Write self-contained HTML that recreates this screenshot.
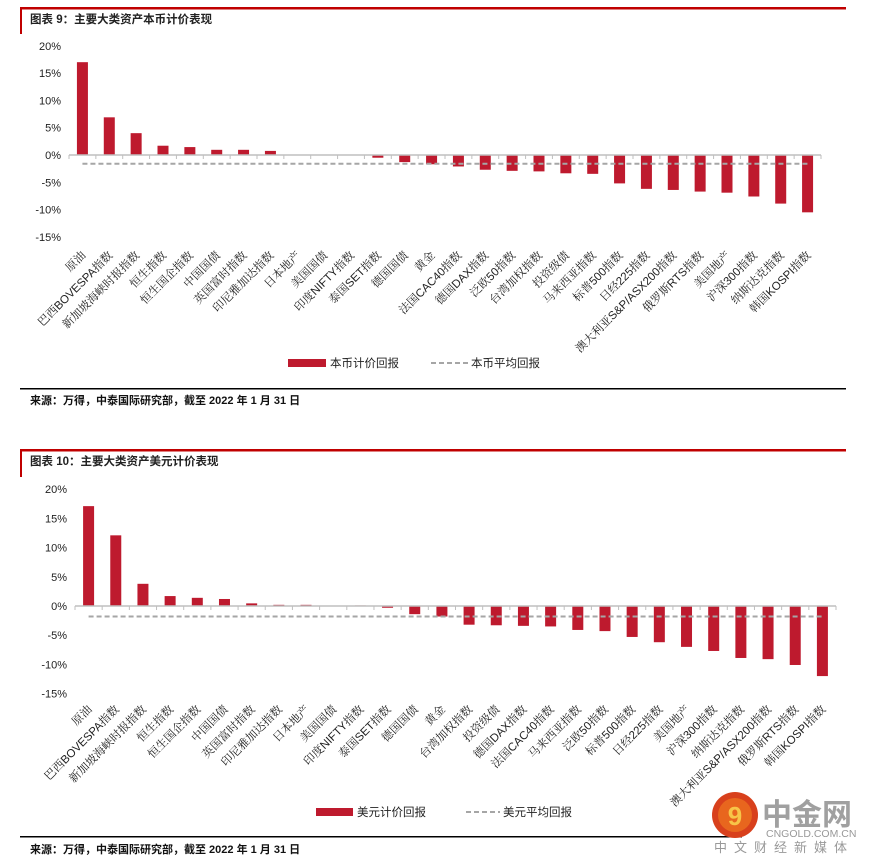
<!DOCTYPE html>
<html><head><meta charset="utf-8"><style>
body{margin:0;background:#fff;}
svg{display:block;font-family:"Liberation Sans","Noto Sans CJK SC",sans-serif;}
</style></head><body>
<svg id="s" width="869" height="863" viewBox="0 0 869 863" xmlns="http://www.w3.org/2000/svg">
<rect x="20" y="7" width="826" height="2.5" fill="#c00000"/>
<rect x="20" y="7" width="2" height="27" fill="#c00000"/>
<text x="30" y="23" font-size="11.5" fill="#222" font-weight="bold">图表 9：主要大类资产本币计价表现</text>
<rect x="20" y="449" width="826" height="2.5" fill="#c00000"/>
<rect x="20" y="449" width="2" height="28" fill="#c00000"/>
<text x="30" y="465" font-size="11.5" fill="#222" font-weight="bold">图表 10：主要大类资产美元计价表现</text>
<g id="c1"></g><g id="c2"></g>
<rect x="288" y="359" width="38" height="8" fill="#be1a2e"/>
<text x="330" y="367" font-size="11.5" fill="#222">本币计价回报</text>
<line x1="431" y1="363" x2="468" y2="363" stroke="#a6a6a6" stroke-width="2" stroke-dasharray="5,3"/>
<text x="471" y="367" font-size="11.5" fill="#222">本币平均回报</text>
<rect x="20" y="388" width="826" height="1.5" fill="#000"/>
<text x="30" y="404" font-size="11" font-weight="bold" fill="#111">来源：万得，中泰国际研究部，截至 2022 年 1 月 31 日</text>
<rect x="316" y="808" width="37" height="8" fill="#be1a2e"/>
<text x="357" y="816" font-size="11.5" fill="#222">美元计价回报</text>
<line x1="466" y1="812" x2="500" y2="812" stroke="#a6a6a6" stroke-width="2" stroke-dasharray="5,3"/>
<text x="503" y="816" font-size="11.5" fill="#222">美元平均回报</text>
<rect x="20" y="836" width="722" height="1.5" fill="#000"/>
<text x="30" y="853" font-size="11" font-weight="bold" fill="#111">来源：万得，中泰国际研究部，截至 2022 年 1 月 31 日</text>
<g>
<circle cx="735" cy="815" r="23" fill="#d8401c"/>
<circle cx="735" cy="815" r="17" fill="#e8661e"/>
<text x="735" y="825" font-size="26" font-weight="bold" fill="#f7c548" text-anchor="middle">9</text>
<text x="762" y="825" font-size="30" font-weight="bold" fill="#a0a0a0" font-family="Noto Sans CJK SC,sans-serif">中金网</text>
<text x="766" y="837" font-size="10.5" fill="#999">CNGOLD.COM.CN</text>
<text x="714" y="852" font-size="13" fill="#999" letter-spacing="7">中文财经新媒体</text>
</g>
</svg>
<script>
const cats1=["原油","巴西BOVESPA指数","新加坡海峡时报指数","恒生指数","恒生国企指数","中国国债","英国富时指数","印尼雅加达指数","日本地产","美国国债","印度NIFTY指数","泰国SET指数","德国国债","黄金","法国CAC40指数","德国DAX指数","泛欧50指数","台湾加权指数","投资级债","马来西亚指数","标普500指数","日经225指数","澳大利亚S&P/ASX200指数","俄罗斯RTS指数","美国地产","沪深300指数","纳斯达克指数","韩国KOSPI指数"];
const vals1=[17.0,6.9,4.0,1.7,1.45,0.95,0.95,0.75,0,0,0,-0.5,-1.3,-1.7,-2.1,-2.7,-2.9,-3.0,-3.35,-3.45,-5.2,-6.2,-6.4,-6.7,-6.9,-7.6,-8.9,-10.5];
const avg1=-1.6;
const cats2=["原油","巴西BOVESPA指数","新加坡海峡时报指数","恒生指数","恒生国企指数","中国国债","英国富时指数","印尼雅加达指数","日本地产","美国国债","印度NIFTY指数","泰国SET指数","德国国债","黄金","台湾加权指数","投资级债","德国DAX指数","法国CAC40指数","马来西亚指数","泛欧50指数","标普500指数","日经225指数","美国地产","沪深300指数","纳斯达克指数","澳大利亚S&P/ASX200指数","俄罗斯RTS指数","韩国KOSPI指数"];
const vals2=[17.1,12.1,3.8,1.7,1.4,1.2,0.45,0.2,0.2,0,0.1,-0.3,-1.4,-1.8,-3.2,-3.3,-3.4,-3.5,-4.1,-4.3,-5.3,-6.2,-7.0,-7.7,-8.9,-9.1,-10.1,-12.0];
const avg2=-1.8;
const ticks=[20,15,10,5,0,-5,-10,-15];
const NS="http://www.w3.org/2000/svg";
function mk(tag,attrs,parent,txt){const e=document.createElementNS(NS,tag);for(const k in attrs)e.setAttribute(k,attrs[k]);if(txt!==undefined)e.textContent=txt;parent.appendChild(e);return e;}
function draw(g,cats,vals,avg,o,prefix){
  const y=v=>o.y0-v*o.ppu;
  const step=(o.x1-o.x0)/cats.length;
  const x=i=>o.x0+step*(i+0.5);
  ticks.forEach(t=>{
    const tl=mk('text',{x:o.x0-8,y:y(t)+4,'font-size':11,'text-anchor':'end',fill:'#222'},g,t+'%');
    
    
  });
  vals.forEach((v,i)=>{
    const r=mk('rect',{x:x(i)-o.bw/2,y:Math.min(y(v),y(0)),width:o.bw,height:Math.abs(y(v)-y(0)),fill:'#be1a2e'},g);
    
    
  });
  const ax=mk('line',{x1:o.x0,y1:y(0),x2:o.x1,y2:y(0),stroke:'#bfbfbf','stroke-width':1.5},g);
  
  
  for(let i=0;i<=cats.length;i++){
    const tk=mk('line',{x1:o.x0+step*i,y1:y(0),x2:o.x0+step*i,y2:y(0)+4,stroke:'#bfbfbf'},g);
    
    
  }
  const al=mk('line',{x1:x(0),y1:y(avg),x2:x(cats.length-1),y2:y(avg),stroke:'#a6a6a6','stroke-width':2,'stroke-dasharray':'5,3'},g);
  
  
  cats.forEach((c,i)=>{
    const lx=x(i)+4, ly=o.ly;
    const t=mk('text',{x:lx,y:ly,'font-size':11.5,'text-anchor':'end',fill:'#222','font-family':'"Liberation Sans","Noto Serif CJK SC",serif',transform:`rotate(-45 ${lx} ${ly})`},g,c);
    
    
  });
}
draw(document.getElementById('c1'),cats1,vals1,avg1,{x0:69,x1:821,y0:155,ppu:27.3/5,bw:11,ly:256},'chart1');
draw(document.getElementById('c2'),cats2,vals2,avg2,{x0:75,x1:836,y0:606,ppu:29.2/5,bw:11,ly:710},'chart2');
</script>
</body></html>
